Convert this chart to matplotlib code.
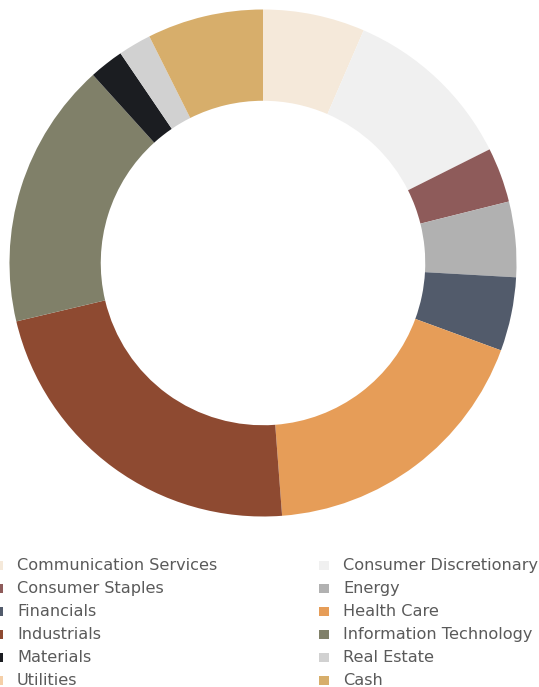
import matplotlib
matplotlib.use("Agg")
import matplotlib.pyplot as plt
from matplotlib.patches import Rectangle

# Sector weights (%), clockwise from 12 o'clock
sectors = ["Communication Services", "Consumer Discretionary", "Consumer Staples",
           "Energy", "Financials", "Health Care", "Industrials",
           "Information Technology", "Materials", "Real Estate", "Utilities", "Cash"]
weights = [6.5, 11.1, 3.5, 4.8, 4.7, 18.2, 22.5, 17.0, 2.2, 2.1, 0.0, 7.4]
colors = ["#F5E9DA", "#F0F0F0", "#8E5B5A", "#B1B1B1", "#525B6B", "#E69D58",
          "#8E4A31", "#808069", "#1B1D21", "#D1D1D1", "#F5CFA8", "#D7AE6B"]

# legend order (two columns, row by row)
legend_order = ["Communication Services", "Consumer Discretionary",
                "Consumer Staples", "Energy",
                "Financials", "Health Care",
                "Industrials", "Information Technology",
                "Materials", "Real Estate",
                "Utilities", "Cash"]

W, H = 539, 687
fig = plt.figure(figsize=(W / 100, H / 100), dpi=100)

# donut axes: centre (263, 263) px, radius ~253.5 px
cx, cy, r = 263, 263, 253.5
ax = fig.add_axes([(cx - r) / W, (H - cy - r) / H, 2 * r / W, 2 * r / H])
vals = [w for w in weights if w > 0]
cols = [c for w, c in zip(weights, colors) if w > 0]
ax.pie(vals, colors=cols, startangle=90, counterclock=False, radius=1,
       wedgeprops=dict(width=0.36, linewidth=0))
ax.set_xlim(-1, 1)
ax.set_ylim(-1, 1)
ax.set_aspect("equal")
ax.axis("off")

# legend drawn by hand
color_of = dict(zip(sectors, colors))
row_y0, row_dy = 565.7, 22.9
col_text_x = [17, 343]
for i, name in enumerate(legend_order):
    row, col = divmod(i, 2)
    y = row_y0 + row * row_dy
    tx = col_text_x[col]
    fig.patches.append(Rectangle(((tx - 24) / W, (H - y - 4.5) / H), 10 / W, 9 / H,
                                 transform=fig.transFigure, color=color_of[name],
                                 linewidth=0))
    fig.text(tx / W, (H - y) / H, name, ha="left", va="center",
             fontsize=11.6, color="#5A5A5A", family=["DejaVu Sans"])

fig.savefig("out.png", dpi=100)
